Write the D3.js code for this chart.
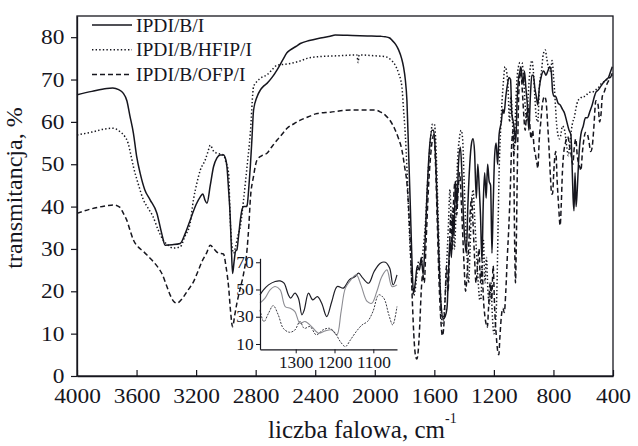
<!DOCTYPE html>
<html>
<head>
<meta charset="utf-8">
<script src="https://cdn.jsdelivr.net/npm/d3@7/dist/d3.min.js"></script>
<style>
body { margin:0; background:#fff; }
svg text { font-family: "Liberation Serif", "Times New Roman", serif; fill:#16161e; }
</style>
</head>
<body>
<svg id="chart" width="638" height="446"></svg>
<script>
// legend names and ticks
var seriesNames = ['IPDI/B/I', 'IPDI/B/HFIP/I', 'IPDI/B/OFP/I']
var xTicks = [4000, 3600, 3200, 2800, 2400, 2000, 1600, 1200, 800, 400]
var yTicks = [0, 10, 20, 30, 40, 50, 60, 70, 80]
var insetXTicks = [1300, 1200, 1100]
var insetYTicks = [10, 30, 50, 70]

// main spectra [wavenumber, transmittance]
var spectrumI = [
	[4000,66.4],[3900,67.2],[3800,67.9],[3760,68],[3720,67.6],[3690,66.8],[3665,65],[3645,61.5],[3621,57.3],[3600,52],
	[3576,47.9],[3545,44],[3509,41.6],[3464,38.5],[3430,33.5],[3408,30.9],[3360,31],[3307,31.3],[3275,33.5],[3240,36.8],
	[3200,40.5],[3172,42.3],[3155,43],[3140,41.5],[3127,40.8],[3105,45],[3083,49.4],[3060,51.5],[3038,52.2],[3016,52.2],
	[3000,51],[2993,49.4],[2982,44],[2971,37.6],[2963,30],[2955,24.2],[2945,27],[2935,29.5],[2926,29.8],[2915,33],
	[2903,36.8],[2890,39.5],[2881,40],[2865,40],[2858,40.2],[2845,45],[2836,49.4],[2825,56],[2814,62.8],[2790,66],
	[2769,67.5],[2745,68.5],[2724,69.1],[2690,70.5],[2656,72.3],[2620,74.5],[2590,76.3],[2567,77],[2530,77.8],[2500,78.5],
	[2440,79.2],[2380,79.7],[2300,80.2],[2266,80.5],[2150,80.4],[2050,80.3],[1960,80.2],[1930,80.1],[1900,79.8],[1885,79.3],
	[1860,78.3],[1840,77],[1820,75],[1807,73],[1795,70],[1784,65],[1773,53],[1762,41],[1750,27],[1740,19.5],
	[1728,22],[1715,26],[1700,25],[1688,28],[1675,24],[1662,32],[1648,44],[1632,54],[1615,58],[1605,58],
	[1595,54],[1582,42],[1568,27],[1555,17],[1540,13.5],[1528,14],[1515,16],[1505,24],[1495,32],[1485,28],
	[1475,38],[1468,33],[1458,46],[1448,40],[1438,50],[1425,54],[1415,48],[1405,38],[1395,32],[1385,29],
	[1375,40],[1362,50],[1350,55],[1340,56],[1330,53],[1318,42],[1308,50],[1298,44],[1290,38],[1280,27],
	[1272,40],[1262,48],[1252,42],[1242,50],[1232,46],[1222,45],[1213,29],[1205,40],[1195,52],[1185,55],
	[1175,50],[1165,57],[1150,60],[1140,63],[1132,62],[1120,66],[1108,69],[1098,70.5],[1088,70],[1080,62],
	[1070,60],[1062,58],[1053,55],[1045,64],[1035,70],[1025,72],[1019,73],[1012,71],[1003,69],[995,72],
	[985,68],[975,64],[965,58],[955,66],[945,71],[935,71],[925,68],[915,66],[905,64],[895,68],
	[880,71],[865,72],[850,71],[838,72],[825,73],[815,72],[805,67],[795,66],[785,66],[770,64.5],
	[755,64],[740,63],[725,62],[710,60],[695,58],[683,57],[675,50],[668,42],[662,39],[655,48],
	[648,40],[640,44],[632,50],[625,54],[616,57],[600,59],[585,61],[571,61],[555,62.5],[540,64],
	[525,66],[515,67],[500,67.5],[480,68.5],[460,69.5],[445,70],[430,70.5],[415,72],[405,73]
]
var spectrumHFIP = [
	[4000,56.9],[3900,57.6],[3800,58.4],[3760,58.5],[3711,57.7],[3680,56.6],[3657,55],[3640,52.5],[3621,49.4],[3590,45.5],
	[3554,41.6],[3520,39.5],[3489,37.6],[3455,34.5],[3421,32.1],[3385,30.8],[3354,30.2],[3307,30.5],[3275,33],[3240,36.1],
	[3218,41.6],[3195,45.5],[3172,48.6],[3139,51],[3120,53],[3105,54.5],[3085,53.2],[3060,52.6],[3016,52.2],[3000,50.5],
	[2982,47.9],[2971,37],[2960,31],[2948,29],[2935,30.5],[2920,33],[2903,35.3],[2880,42],[2858,49.4],[2836,57.3],
	[2814,68.3],[2790,69.6],[2760,70.5],[2724,71.1],[2690,72.3],[2656,73.4],[2600,73.6],[2567,73.8],[2500,74.4],[2455,75],
	[2379,75.4],[2250,75.6],[2120,75.8],[2112,74],[2105,75.8],[2000,75.6],[1930,75.4],[1890,74.6],[1863,73.4],[1840,71.5],
	[1818,68.3],[1807,63],[1795,57],[1784,49],[1770,36],[1755,25],[1740,19],[1730,20],[1720,23],[1705,27],
	[1690,26],[1675,30],[1660,36],[1645,46],[1628,55],[1612,59.5],[1600,59.5],[1590,55],[1578,42],[1565,27],
	[1555,16],[1546,12.5],[1536,14],[1525,20],[1515,28],[1505,36],[1495,44],[1485,36],[1475,40],[1465,30],
	[1455,38],[1445,50],[1432,56],[1420,58],[1410,56],[1400,46],[1390,36],[1380,28],[1370,22],[1360,30],
	[1350,40],[1340,44],[1330,38],[1318,30],[1305,22],[1295,18],[1288,18],[1280,24],[1270,32],[1260,22],
	[1250,28],[1240,20],[1230,17],[1220,22],[1210,14],[1200,10],[1190,12],[1180,20],[1172,35],[1165,48],
	[1155,58],[1145,65],[1135,70],[1125,73],[1115,72],[1105,68],[1095,60],[1085,66],[1075,60],[1065,52],
	[1055,62],[1045,70],[1035,73],[1025,74],[1011,74],[1000,70],[990,64],[980,60],[970,66],[958,72],
	[945,74.5],[935,72],[925,66],[915,61],[905,60],[895,68],[880,72],[868,76],[855,77],[845,75],
	[835,73],[820,72],[809,74.5],[800,71],[790,66],[780,60],[770,57],[760,56],[750,57],[740,59],
	[725,58],[710,54],[700,52],[690,55],[680,58],[670,60],[660,61],[650,63],[635,65],[620,65.5],
	[605,66],[590,66],[575,66.5],[560,67],[540,67],[520,67.5],[500,68],[480,69],[460,69.5],[440,70],
	[420,70.5],[405,71]
]
var spectrumOFP = [
	[4000,38.4],[3900,39.5],[3800,40.2],[3756,40.4],[3711,39.8],[3690,38.5],[3666,36.8],[3640,34],[3621,32.1],[3590,30.5],
	[3554,29.4],[3520,28.2],[3487,27],[3455,25.6],[3430,24.2],[3400,21.5],[3374,19.1],[3350,17.6],[3329,17.2],[3300,18],
	[3262,19.9],[3240,21],[3217,22.3],[3190,24.5],[3161,27],[3130,29],[3105,30.9],[3080,30],[3049,29],[3016,28.8],
	[3000,26],[2982,21.1],[2968,15],[2955,11.6],[2940,14.5],[2926,17.2],[2905,20.5],[2881,24.2],[2858,29.8],[2845,36],
	[2836,41.6],[2815,47],[2791,51],[2760,52],[2724,52.6],[2690,54.2],[2656,55.7],[2620,57.2],[2589,58.5],[2545,59.5],
	[2500,60.4],[2440,61.3],[2387,62],[2300,62.3],[2155,62.8],[2060,62.8],[1997,62.8],[1960,62.3],[1930,61.6],[1895,60.2],
	[1863,58.1],[1840,56],[1818,53.4],[1800,49.5],[1784,45.5],[1770,38],[1760,30],[1748,18],[1735,8],[1725,4.5],
	[1717,4],[1708,6],[1698,12],[1688,20],[1678,24],[1668,22],[1655,32],[1640,44],[1625,52],[1612,56],
	[1602,57],[1592,50],[1580,36],[1568,22],[1556,13],[1546,9.5],[1538,11],[1528,18],[1518,26],[1508,20],
	[1498,30],[1490,38],[1480,30],[1470,42],[1460,46],[1450,38],[1440,44],[1430,48],[1420,42],[1410,34],
	[1400,26],[1390,20],[1380,24],[1370,30],[1360,38],[1350,42],[1340,36],[1330,28],[1320,22],[1310,26],
	[1300,30],[1290,22],[1280,26],[1270,18],[1260,14],[1250,12],[1244,11.5],[1236,16],[1225,22],[1215,18],
	[1205,26],[1195,16],[1185,10],[1175,6],[1167,5],[1160,9],[1150,14],[1140,16],[1130,15],[1120,20],
	[1110,28],[1100,35],[1090,44],[1080,55],[1070,58],[1060,30],[1055,22],[1050,30],[1042,50],[1035,64],
	[1025,71],[1019,72],[1010,68],[1000,62],[990,58],[980,62],[970,64],[960,60],[950,56],[940,58],
	[930,54],[920,52],[910,50],[905,49],[895,56],[885,60],[875,64],[860,66],[850,65],[840,60],
	[830,54],[820,47],[812,43],[806,43],[798,48],[790,52],[784,53],[775,46],[765,40],[755,35.5],
	[748,40],[740,48],[730,53],[720,55],[705,56.5],[690,54],[680,52],[670,50],[660,54],[650,56],
	[640,52],[630,50],[620,49],[616,48.5],[605,53],[595,56],[585,57.5],[571,57],[560,55],[550,53],
	[540,54],[530,58],[515,65],[500,64],[490,60],[480,62],[472,66],[460,67],[450,68],[440,69],
	[425,70],[410,71],[400,72]
]

// inset (1390-1040 cm-1)
var insetTop = [
	[1392,46.1],[1383,49.7],[1370,53.4],[1353,55.9],[1340,56.3],[1330,54.6],[1319,46.1],[1313,43.6],[1302,47.3],[1293,43.6],
	[1284,31.4],[1278,35],[1267,47.3],[1256,42.4],[1244,44.8],[1233,39.9],[1220,30.1],[1207,41.2],[1193,52.2],[1177,51],
	[1162,57.1],[1147,59.5],[1138,62],[1127,58.3],[1112,54.6],[1098,63.2],[1082,69.3],[1069,70],[1058,65.7],[1049,53.4],
	[1039,60.8]
]
var insetMid = [
	[1392,40],[1379,43.6],[1366,49.7],[1353,52.2],[1340,49.7],[1327,37.5],[1314,36.2],[1302,33.8],[1289,25.2],[1276,26.5],
	[1259,22.8],[1241,17.9],[1224,19.6],[1207,20.3],[1194,16.7],[1183,33.8],[1172,51],[1158,57.1],[1144,60.8],[1132,53.4],
	[1116,41.2],[1104,39.9],[1091,48.5],[1078,59.5],[1065,64.4],[1052,52.2],[1039,53.4]
]
var insetLow = [
	[1392,35],[1382,26.4],[1370,32.6],[1358,38.2],[1345,31.4],[1332,21.5],[1316,18.6],[1302,20.3],[1289,26.5],[1278,21.5],
	[1263,22.8],[1247,16.7],[1230,20.3],[1213,21.5],[1198,17.9],[1185,11.7],[1172,8.1],[1159,13],[1144,19.1],[1129,24],
	[1115,26.5],[1101,33.8],[1086,46.1],[1073,43.6],[1060,31.4],[1050,24],[1039,37.5]
]

var ink = '#16161e'
var svg = d3.select('#chart')
var m = {left: 77, right: 613, top: 16, bottom: 376}

var x = d3.scaleLinear().domain([4000, 400]).range([m.left, m.right])
var y = d3.scaleLinear().domain([0, 85]).range([m.bottom, m.top])

var styles = [
	{dash: null, width: 1.5},
	{dash: '1.4,2.2', width: 1.5},
	{dash: '5,3', width: 1.5}
]

// frame
svg.append('rect')
	.attr('x', m.left).attr('y', m.top)
	.attr('width', m.right - m.left).attr('height', m.bottom - m.top)
	.attr('fill', 'none').attr('stroke', ink).attr('stroke-width', 1.3)

var line = d3.line()
	.x(function(d) { return x(d[0]) })
	.y(function(d) { return y(d[1]) })
	.curve(d3.curveMonotoneX)

;[spectrumI, spectrumHFIP, spectrumOFP].forEach(function(s, i) {
	svg.append('path')
		.datum(s)
		.attr('d', line)
		.attr('fill', 'none')
		.attr('stroke', ink)
		.attr('stroke-width', styles[i].width)
		.attr('stroke-dasharray', styles[i].dash)
})

// axes
var xAxis = svg.append('g')
	.attr('transform', 'translate(0,' + m.bottom + ')')
	.call(d3.axisBottom(x).tickValues(xTicks).tickSizeInner(-6).tickSizeOuter(0).tickPadding(12).tickFormat(d3.format('d')))
var yAxis = svg.append('g')
	.attr('transform', 'translate(' + m.left + ',0)')
	.call(d3.axisLeft(y).tickValues(yTicks).tickSizeInner(6).tickSizeOuter(0).tickPadding(5))

;[xAxis, yAxis].forEach(function(g) {
	g.attr('font-family', null)
	g.select('.domain').attr('stroke', ink).attr('stroke-width', 1.3)
	g.selectAll('.tick line').attr('stroke', ink).attr('stroke-width', 1.2)
	g.selectAll('.tick text')
		.attr('fill', ink)
		.style('font-size', '20.5px')
		.attr('transform', 'scale(1.14,1)')
})

// axis titles
svg.append('text')
	.attr('transform', 'translate(22,188) rotate(-90)')
	.attr('text-anchor', 'middle')
	.style('font-size', '24px')
	.text('transmitancja, %')

var xt = svg.append('text')
	.attr('x', 268).attr('y', 438)
	.style('font-size', '25px')
	.text('liczba falowa, cm')
xt.append('tspan')
	.attr('dy', -15)
	.style('font-size', '14px')
	.text('-1')

// legend
var leg = svg.append('g')
seriesNames.forEach(function(n, i) {
	var ly = 25 + i * 24.7
	leg.append('line')
		.attr('x1', 92).attr('x2', 132)
		.attr('y1', ly).attr('y2', ly)
		.attr('stroke', ink)
		.attr('stroke-width', 1.5)
		.attr('stroke-dasharray', styles[i].dash)
	leg.append('text')
		.attr('x', 136).attr('y', ly)
		.attr('dy', '0.34em')
		.style('font-size', '19.5px')
		.text(n)
})

// inset
var ix = d3.scaleLinear().domain([1392, 1039]).range([260, 397])
var iy = d3.scaleLinear().domain([6.1, 72.9]).range([349.3, 258.3])
var inset = svg.append('g')

var iline = d3.line()
	.x(function(d) { return ix(d[0]) })
	.y(function(d) { return iy(d[1]) })
	.curve(d3.curveCatmullRom.alpha(0.5))

var insetStyles = [
	{data: insetTop, color: '#1e1e26', width: 1.2, dash: null},
	{data: insetMid, color: '#8c8c92', width: 1.1, dash: null},
	{data: insetLow, color: '#3a3a42', width: 1, dash: '2,1.3'}
]
insetStyles.forEach(function(s) {
	inset.append('path')
		.datum(s.data)
		.attr('d', iline)
		.attr('fill', 'none')
		.attr('stroke', s.color)
		.attr('stroke-width', s.width)
		.attr('stroke-dasharray', s.dash)
})

var ixAxis = inset.append('g')
	.attr('transform', 'translate(0,349.3)')
	.call(d3.axisBottom(ix).tickValues(insetXTicks).tickSizeInner(4).tickSizeOuter(0).tickPadding(3).tickFormat(d3.format('d')))
var iyAxis = inset.append('g')
	.attr('transform', 'translate(260,0)')
	.call(d3.axisLeft(iy).tickValues(insetYTicks).tickSizeInner(4).tickSizeOuter(0).tickPadding(2))

;[ixAxis, iyAxis].forEach(function(g) {
	g.attr('font-family', null)
	g.select('.domain').attr('stroke', ink).attr('stroke-width', 1.2)
	g.selectAll('.tick line').attr('stroke', ink).attr('stroke-width', 1)
	g.selectAll('.tick text')
		.attr('fill', ink)
		.style('font-size', '16px')
		.attr('transform', 'scale(1.08,1)')
})
</script>
</body>
</html>
